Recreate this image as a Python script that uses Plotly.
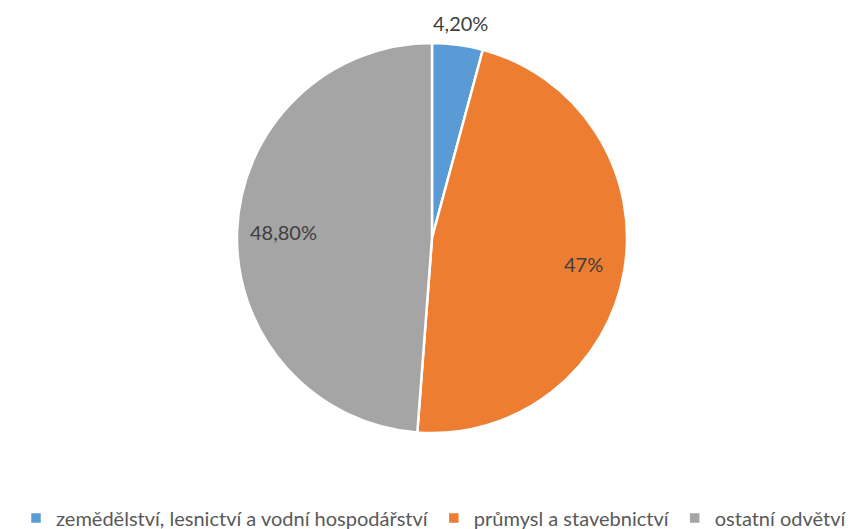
import math
import plotly.graph_objects as go

categories = ["zemědělství, lesnictví a vodní hospodářství", "průmysl a stavebnictví", "ostatní odvětví"]
values = [4.2, 47.0, 48.8]
value_labels = ["4,20%", "47%", "48,80%"]
label_radius = [1.11, 0.79, 0.76]
colors = ["#5B9BD5", "#ED7D31", "#A5A5A5"]

W, H = 867, 529
off = 8  # page body margin of the html page
cx, cy, r = 432 - off, 238 - off, 195

fig = go.Figure(go.Pie(
    labels=categories,
    values=values,
    text=value_labels,
    textinfo="none",
    sort=False,
    direction="clockwise",
    rotation=0,
    marker=dict(colors=colors, line=dict(color="white", width=2.5)),
    domain=dict(x=[(cx - r) / W, (cx + r) / W], y=[1 - (cy + r) / H, 1 - (cy - r) / H]),
    hoverinfo="label+text",
))

# data labels placed at each slice's mid angle
total = sum(values)
cum = 0.0
for v, lab, rf in zip(values, value_labels, label_radius):
    mid = (cum + v / 2) / total * 2 * math.pi
    cum += v
    px = cx + rf * r * math.sin(mid)
    py = cy - rf * r * math.cos(mid)
    fig.add_annotation(x=px / W, y=1 - py / H, xref="paper", yref="paper",
                       xanchor="center", yanchor="middle",
                       text=lab, showarrow=False,
                       font=dict(family="Lato", size=20, color="#404040"))

fig.update_layout(
    width=W, height=H,
    margin=dict(l=0, r=0, t=0, b=0, autoexpand=False),
    paper_bgcolor="white",
    plot_bgcolor="white",
    showlegend=True,
    legend=dict(orientation="h", x=(434 - off) / W, xanchor="center", y=1 - (518 - off) / H, yanchor="middle",
                font=dict(family="Lato", size=20, color="#595959"),
                itemwidth=30, tracegroupgap=0),
)

fig.write_html("out.html")
